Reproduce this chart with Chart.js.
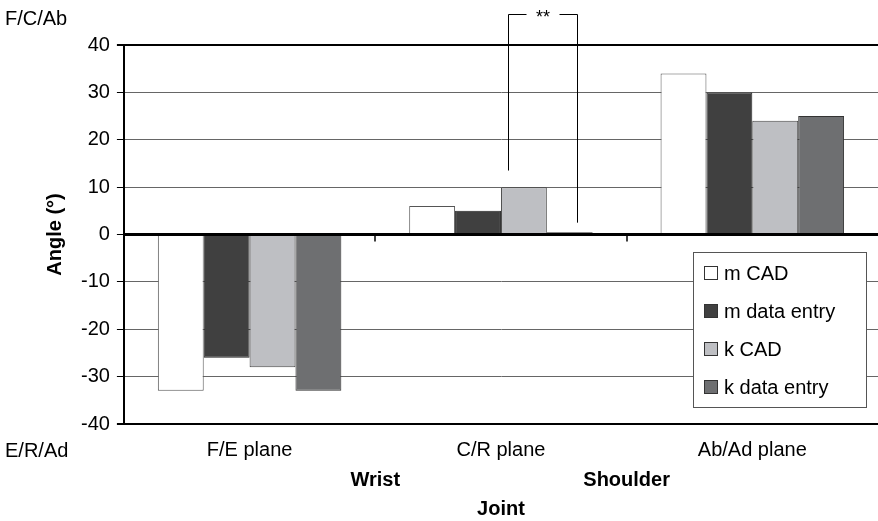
<!DOCTYPE html>
<html>
<head>
<meta charset="utf-8">
<script src="https://cdn.jsdelivr.net/npm/chart.js@4/dist/chart.umd.min.js"></script>
<style>
  html, body { margin: 0; padding: 0; background: #fff; }
  #wrap { width: 878px; height: 521px; position: relative; }
</style>
</head>
<body>
<div id="wrap"><canvas id="chart" width="878" height="521"></canvas></div>
<script>
// data
const planes = ["F/E plane", "C/R plane", "Ab/Ad plane"];
const joints = ["Wrist", "Shoulder"];
const mCad = [-33, 6, 34];
const mDataEntry = [-26, 5, 30];
const kCad = [-28, 10, 24];
const kDataEntry = [-33, 0.5, 25];

const FONT = "Arial, 'Liberation Sans', sans-serif";

// extra drawing: zero line, ticks between categories, side labels, bracket, legend box
const extras = {
  id: "extras",
  afterDatasetsDraw(chart) {
    const ctx = chart.ctx;
    const x = chart.scales.x;
    const y = chart.scales.y;
    const area = chart.chartArea;
    const y0 = y.getPixelForValue(0);

    ctx.save();
    // zero line
    ctx.strokeStyle = "#000";
    ctx.lineWidth = 3;
    ctx.beginPath();
    ctx.moveTo(area.left, y0);
    ctx.lineTo(area.right, y0);
    ctx.stroke();

    // small ticks between categories
    ctx.lineWidth = 1.5;
    for (let i = 1; i < planes.length; i++) {
      const bx = Math.round((x.getPixelForValue(i - 1) + x.getPixelForValue(i)) / 2);
      ctx.beginPath();
      ctx.moveTo(bx, y0);
      ctx.lineTo(bx, y0 + 7);
      ctx.stroke();
    }

    // joint labels under the category boundaries
    ctx.fillStyle = "#000";
    ctx.font = "bold 20px " + FONT;
    ctx.textAlign = "center";
    ctx.textBaseline = "middle";
    joints.forEach((j, i) => {
      const bx = (x.getPixelForValue(i) + x.getPixelForValue(i + 1)) / 2;
      ctx.fillText(j, bx, 480);
    });

    // direction labels
    ctx.font = "20px " + FONT;
    ctx.textAlign = "left";
    ctx.fillText("F/C/Ab", 5, 19);
    ctx.fillText("E/R/Ad", 5, 451);

    // significance bracket between k CAD and k data entry (C/R plane)
    const b3 = chart.getDatasetMeta(2).data[1];
    const b4 = chart.getDatasetMeta(3).data[1];
    const lx = Math.round(b3.x - b3.width / 2 + 7) + 0.5;
    const rx = Math.round(b4.x + 7) + 0.5;
    const topY = 14.5;
    ctx.strokeStyle = "#000";
    ctx.lineWidth = 1;
    ctx.beginPath();
    ctx.moveTo(lx, y.getPixelForValue(13.5));
    ctx.lineTo(lx, topY);
    ctx.lineTo(lx + 18, topY);
    ctx.moveTo(rx - 18, topY);
    ctx.lineTo(rx, topY);
    ctx.lineTo(rx, y.getPixelForValue(2.5));
    ctx.stroke();
    ctx.font = "18px " + FONT;
    ctx.textAlign = "center";
    ctx.fillText("**", (lx + rx) / 2, topY + 4);

    // legend box
    const lgX = 693, lgY = 252, lgW = 173, lgH = 155;
    ctx.fillStyle = "#fff";
    ctx.fillRect(lgX, lgY, lgW, lgH);
    ctx.strokeStyle = "#555";
    ctx.lineWidth = 1;
    ctx.strokeRect(lgX + 0.5, lgY + 0.5, lgW, lgH);
    ctx.font = "20px " + FONT;
    ctx.textAlign = "left";
    chart.data.datasets.forEach((ds, i) => {
      const cy = 273 + i * 38;
      ctx.fillStyle = ds.backgroundColor;
      ctx.fillRect(704, cy - 7, 14, 14);
      ctx.strokeStyle = "#333";
      ctx.strokeRect(704.5, cy - 6.5, 13, 13);
      ctx.fillStyle = "#000";
      ctx.fillText(ds.label, 724, cy + 1);
    });
    ctx.restore();
  }
};

const ctx = document.getElementById("chart").getContext("2d");
new Chart(ctx, {
  type: "bar",
  data: {
    labels: planes,
    datasets: [
      { label: "m CAD", data: mCad, backgroundColor: "#ffffff", borderColor: "#555" },
      { label: "m data entry", data: mDataEntry, backgroundColor: "#404040", borderColor: "#222" },
      { label: "k CAD", data: kCad, backgroundColor: "#bebfc3", borderColor: "#444" },
      { label: "k data entry", data: kDataEntry, backgroundColor: "#6e6f71", borderColor: "#333" }
    ].map(d => Object.assign(d, {
      borderWidth: 1,
      borderSkipped: false,
      categoryPercentage: 0.73,
      barPercentage: 1
    }))
  },
  options: {
    responsive: false,
    animation: false,
    layout: { padding: { left: 5, right: 0, top: 45, bottom: 0 } },
    plugins: {
      legend: { display: false },
      tooltip: { enabled: false }
    },
    scales: {
      x: {
        grid: { display: false, drawTicks: false },
        border: { display: false },
        ticks: { color: "#000", font: { family: FONT, size: 20 }, padding: 14 },
        title: {
          display: true,
          text: "Joint",
          color: "#000",
          font: { family: FONT, size: 20, weight: "bold" },
          padding: { top: 21, bottom: 0 }
        }
      },
      y: {
        min: -40,
        max: 40,
        ticks: { stepSize: 10, color: "#000", font: { family: FONT, size: 20 }, padding: 7 },
        grid: {
          tickLength: 7,
          tickColor: "#000",
          color: c => (Math.abs(c.tick.value) === 40 ? "#000" : "#666"),
          lineWidth: c => (Math.abs(c.tick.value) === 40 ? 2 : 1)
        },
        border: { color: "#000", width: 2 },
        title: {
          display: true,
          text: "Angle (°)",
          color: "#000",
          font: { family: FONT, size: 20, weight: "bold" },
          padding: { top: 38, bottom: 7 }
        }
      }
    }
  },
  plugins: [extras]
});
</script>
</body>
</html>
